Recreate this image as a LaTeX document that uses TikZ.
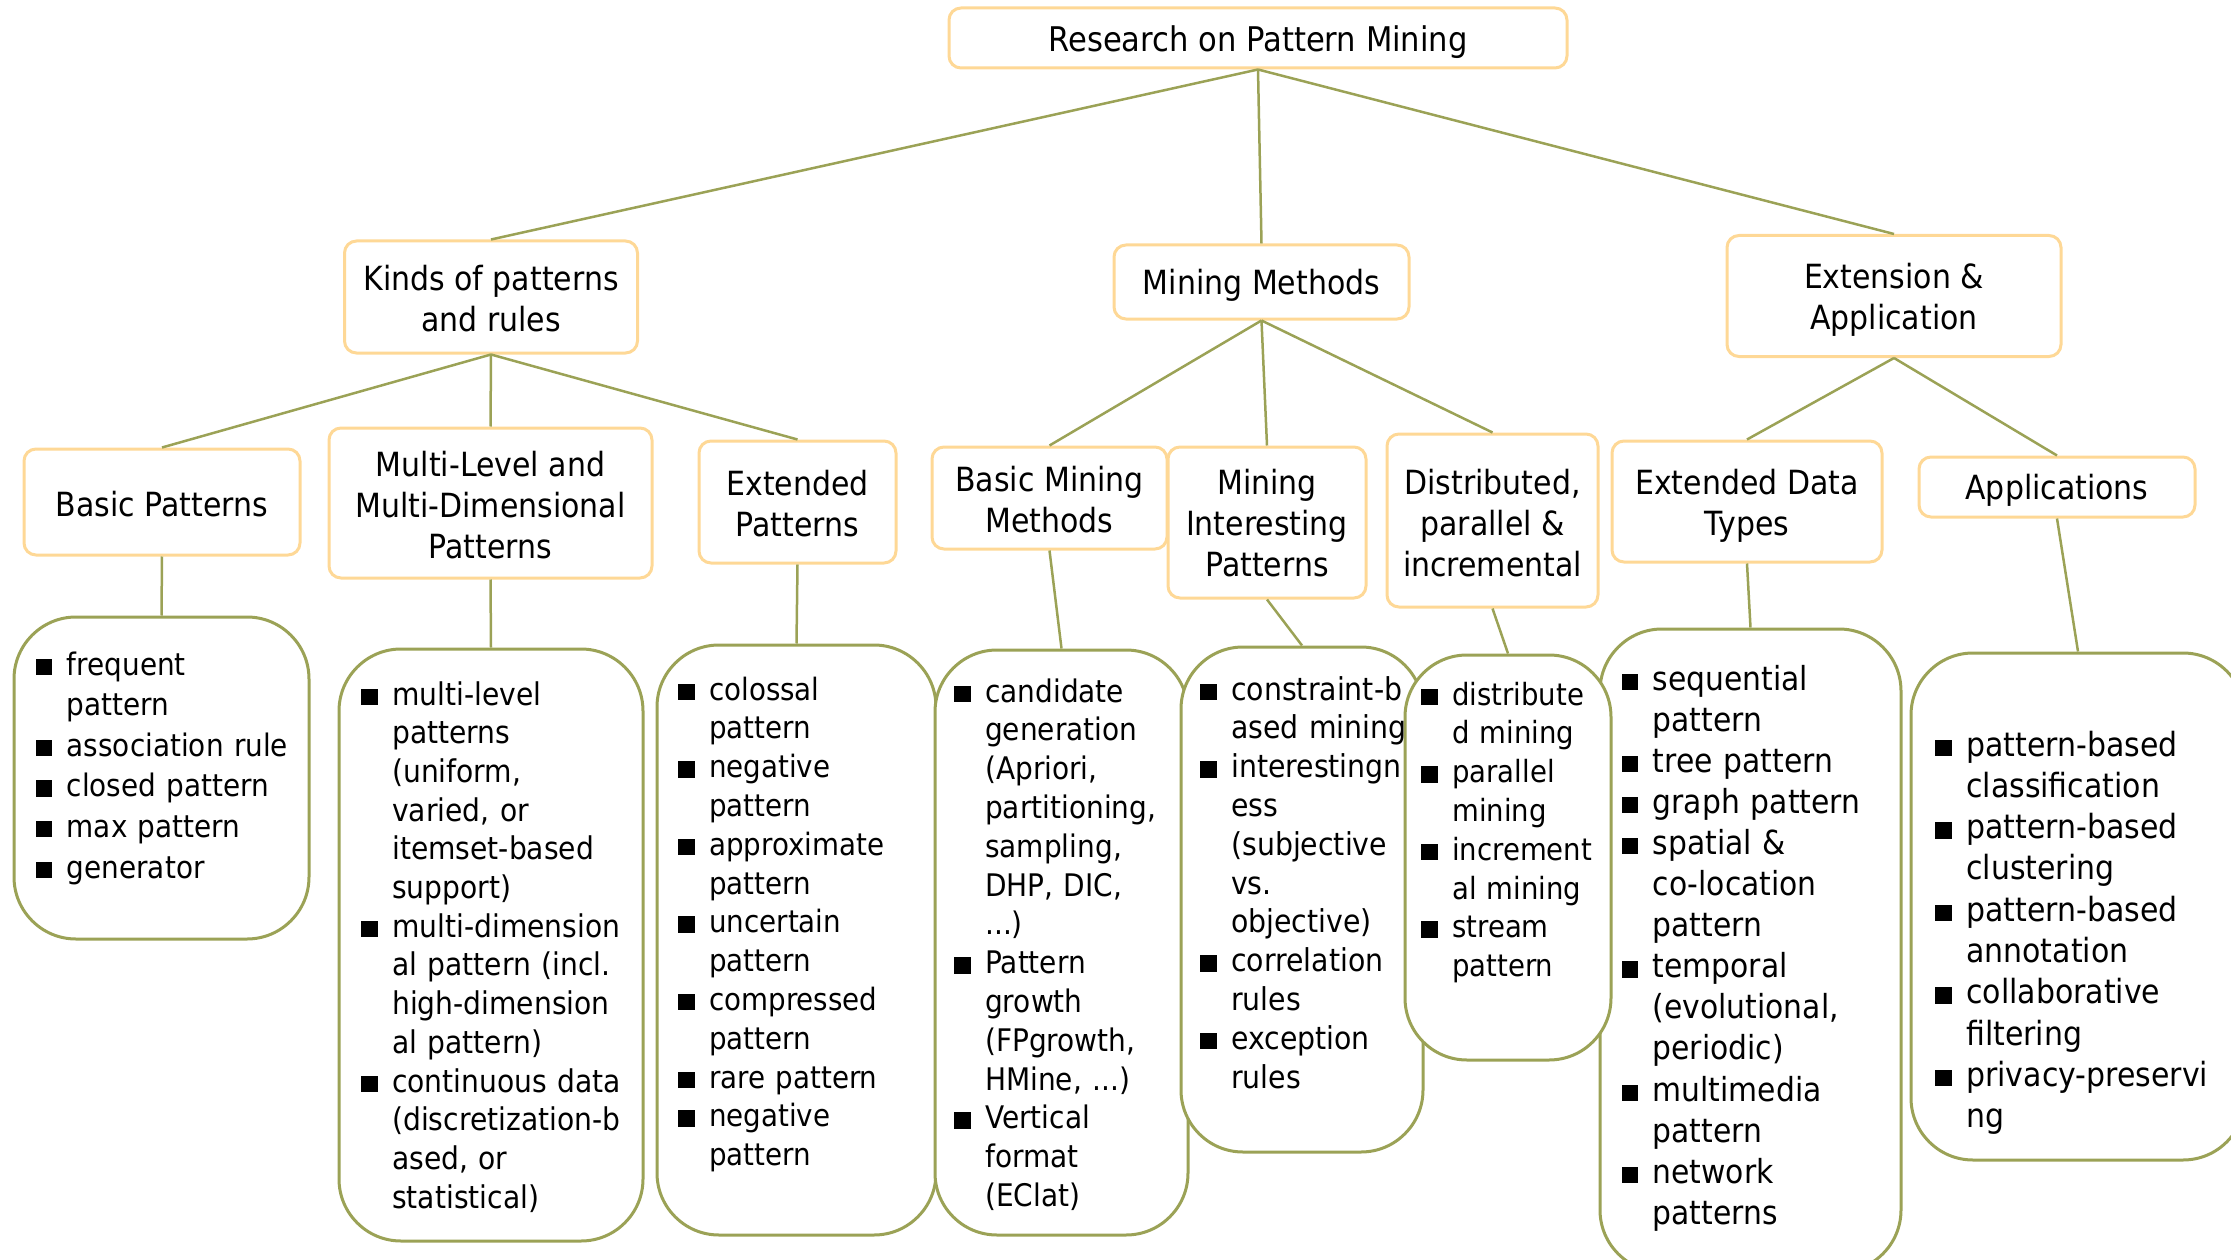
\documentclass[tikz,border=0pt]{standalone}
\usepackage{fontspec}
\setmainfont{DejaVu Sans}[FakeStretch=0.9]

\definecolor{linkolive}{RGB}{155,162,86}
\definecolor{headorange}{RGB}{254,216,150}

% list bullet and hanging indent for continuation lines
\newcommand\bx{\makebox[31pt][l]{\rule{16.5pt}{16.5pt}}}
\newcommand\ind{\hspace*{31pt}}

\tikzset{
  head/.style={draw=headorange, line width=3pt, rounded corners=12pt, fill=white, inner sep=0pt},
  headtext/.style={align=center, inner sep=0pt, font=\fontsize{33.3}{41}\selectfont},
  panel/.style={draw=linkolive, line width=3pt, rounded corners=62pt, fill=white, inner sep=0pt},
  items/.style={anchor=base west, inner sep=0pt, text width=#1, align=left},
  conn/.style={draw=linkolive, line width=2.5pt},
}

% heading box: name, centre x, centre y, width, height, text drop, text
\newcommand\headbox[7]{%
  \node[head, minimum width=#4, minimum height=#5] (#1) at (#2,#3) {};
  \node[headtext] (#1-text) at ([yshift=-#6]#1.center) {#7};}

\begin{document}
\begin{tikzpicture}[x=1pt,y=-1pt]
\useasboundingbox (0,0) rectangle (2231,1260);
\clip (0,0) rectangle (2231,1260);

% ---------- headings ----------
\headbox{root}{1258}{38}{618pt}{60pt}{4pt}{\fontsize{34}{41}\selectfont Research on Pattern Mining}
\headbox{kinds}{491}{297}{293pt}{112pt}{2pt}{Kinds of patterns\\and rules}
\headbox{meth}{1261.5}{282}{295pt}{74pt}{3pt}{Mining Methods}
\headbox{ext}{1894}{296}{334pt}{121pt}{4pt}{Extension \&\\Application}

\headbox{bp}{162}{502}{276pt}{106pt}{2pt}{Basic Patterns}
\headbox{ml}{490.5}{503}{323pt}{150pt}{2pt}{Multi-Level and\\Multi-Dimensional\\Patterns}
\headbox{ep}{797.5}{502}{197pt}{122pt}{2pt}{Extended\\Patterns}
\headbox{bmm}{1049.5}{498}{235pt}{102pt}{2pt}{Basic Mining\\Methods}
\headbox{mip}{1267}{522.5}{198pt}{151pt}{1pt}{Mining\\Interesting\\Patterns}
\headbox{dist}{1492.5}{520.5}{211pt}{173pt}{3pt}{Distributed,\\parallel \&\\incremental}
\headbox{edt}{1747}{501.5}{270pt}{121pt}{4pt}{Extended Data\\Types}
\headbox{app}{2057}{487}{276pt}{60pt}{3pt}{Applications}

% ---------- item panels ----------
\node[panel, minimum width=295pt, minimum height=322pt] (bpL)   at (161.5,778) {};
\node[panel, minimum width=304pt, minimum height=592pt] (mlL)   at (491,945)   {};
\node[panel, minimum width=279pt, minimum height=590pt] (epL)   at (796.5,940) {};
\node[panel, minimum width=253pt, minimum height=585pt] (bmmL)  at (1061.5,942.5) {};
\node[panel, minimum width=242pt, minimum height=505pt] (mipL)  at (1302,899.5) {};
\node[panel, minimum width=301pt, minimum height=643pt] (edtL)  at (1750.5,950.5) {};
\node[panel, minimum width=206pt, minimum height=405pt] (distL) at (1508,857.5) {};
\node[panel, minimum width=334pt, minimum height=507pt] (appL)  at (2078,906.5) {};

% ---------- connectors ----------
\draw[conn] (root.south) -- (kinds.north);
\draw[conn] (root.south) -- (meth.north);
\draw[conn] (root.south) -- (ext.north);
\draw[conn] (kinds.south) -- (bp.north);
\draw[conn] (kinds.south) -- (ml.north);
\draw[conn] (kinds.south) -- (ep.north);
\draw[conn] (meth.south) -- (bmm.north);
\draw[conn] (meth.south) -- (mip.north);
\draw[conn] (meth.south) -- (dist.north);
\draw[conn] (ext.south) -- (edt.north);
\draw[conn] (ext.south) -- (app.north);
\draw[conn] (bp.south) -- (bpL.north);
\draw[conn] (ml.south) -- (mlL.north);
\draw[conn] (ep.south) -- (epL.north);
\draw[conn] (bmm.south) -- (bmmL.north);
\draw[conn] (mip.south) -- (mipL.north);
\draw[conn] (dist.south) -- (distL.north);
\draw[conn] (edt.south) -- (edtL.north);
\draw[conn] (app.south) -- (appL.north);

% ---------- item texts ----------
\node[items=290pt, font=\fontsize{31}{40.6}\selectfont] (bpT) at (35.6,675) {%
\bx frequent\\ \ind pattern\\
\bx association rule\\
\bx closed pattern\\
\bx max pattern\\
\bx generator};

\node[items=290pt, font=\fontsize{31.3}{38.7}\selectfont] (mlT) at (361,705) {%
\bx multi-level\\ \ind patterns\\ \ind (uniform,\\ \ind varied, or\\ \ind itemset-based\\ \ind support)\\
\bx multi-dimension\\ \ind al pattern (incl.\\ \ind high-dimension\\ \ind al pattern)\\
\bx continuous data\\ \ind (discretization-b\\ \ind ased, or\\ \ind statistical)};

\node[items=270pt, font=\fontsize{30.8}{38.8}\selectfont] (epT) at (678,700) {%
\bx colossal\\ \ind pattern\\
\bx negative\\ \ind pattern\\
\bx approximate\\ \ind pattern\\
\bx uncertain\\ \ind pattern\\
\bx compressed\\ \ind pattern\\
\bx rare pattern\\
\bx negative\\ \ind pattern};

\node[items=250pt, font=\fontsize{31.1}{38.8}\selectfont] (bmmT) at (954,702) {%
\bx candidate\\ \ind generation\\ \ind (Apriori,\\ \ind partitioning,\\ \ind sampling,\\ \ind DHP, DIC,\\ \ind ...)\\
\bx Pattern\\ \ind growth\\ \ind (FPgrowth,\\ \ind HMine, ...)\\
\bx Vertical\\ \ind format\\ \ind (EClat)};

\node[items=240pt, font=\fontsize{31.5}{38.8}\selectfont] (mipT) at (1200,700) {%
\bx constraint-b\\ \ind ased mining\\
\bx interestingn\\ \ind ess\\ \ind (subjective\\ \ind vs.\\ \ind objective)\\
\bx correlation\\ \ind rules\\
\bx exception\\ \ind rules};

\node[items=200pt, font=\fontsize{30.6}{38.8}\selectfont] (distT) at (1421,705) {%
\bx distribute\\ \ind d mining\\
\bx parallel\\ \ind mining\\
\bx increment\\ \ind al mining\\
\bx stream\\ \ind pattern};

\node[items=290pt, font=\fontsize{33.1}{41.1}\selectfont] (edtT) at (1621.5,690) {%
\bx sequential\\ \ind pattern\\
\bx tree pattern\\
\bx graph pattern\\
\bx spatial \&\\ \ind co-location\\ \ind pattern\\
\bx temporal\\ \ind (evolutional,\\ \ind periodic)\\
\bx multimedia\\ \ind pattern\\
\bx network\\ \ind patterns};

\node[items=300pt, font=\fontsize{33.3}{41.3}\selectfont] (appT) at (1935,756) {%
\bx pattern-based\\ \ind classification\\
\bx pattern-based\\ \ind clustering\\
\bx pattern-based\\ \ind annotation\\
\bx collaborative\\ \ind filtering\\
\bx privacy-preservi\\ \ind ng};

\end{tikzpicture}
\end{document}
